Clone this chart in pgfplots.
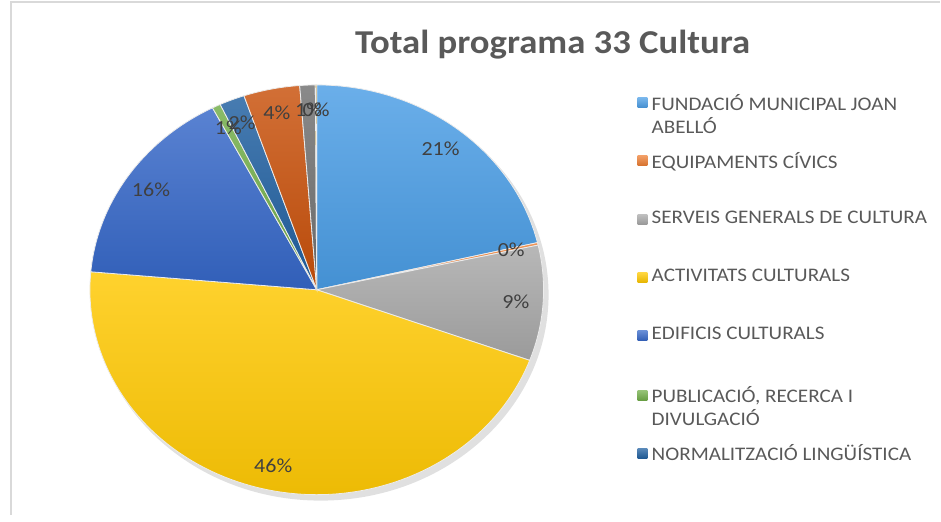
\documentclass[border=0pt]{standalone}
\usepackage{pgfplots}
\pgfplotsset{compat=1.18}
\usepackage{pgfplotstable}
\usepackage{fontspec}
\setmainfont{Carlito}[FakeStretch=1.1]

\definecolor{c1}{HTML}{4A9DE5}
\definecolor{c2}{HTML}{ED7D31}
\definecolor{c3}{HTML}{A8A8A8}
\definecolor{c4}{HTML}{FFC800}
\definecolor{c5}{HTML}{3567C8}
\definecolor{c6}{HTML}{70AD47}
\definecolor{c7}{HTML}{1F5FA0}
\definecolor{c8}{HTML}{C8500A}
\definecolor{c9}{HTML}{707070}
\definecolor{c10}{HTML}{997300}
\definecolor{titlegray}{HTML}{595959}
\definecolor{labelgray}{HTML}{404040}
\definecolor{framegray}{HTML}{D9D9D9}

% share of each item (%), clockwise from 12 o'clock
\pgfplotstableread{
share color
21.3 c1
0.2  c2
9.1  c3
45.8 c4
16.0 c5
0.6  c6
1.8  c7
4.0  c8
1.1  c9
0.1  c10
}\piedata

\newcommand\lblfont{\fontsize{20}{24}\selectfont}
\newcommand\legfont{\fontsize{19.2}{23}\selectfont}

\begin{document}
\begin{tikzpicture}
\begin{axis}[
    width=941pt, height=515pt,
    scale only axis,
    xmin=0, xmax=941, ymin=0, ymax=515,
    hide axis,
    clip=false,
]
\path (axis cs:0,0) rectangle (axis cs:941,515);
\draw[framegray, line width=1.5pt] (axis cs:11,0) -- (axis cs:11,513) -- (axis cs:941,513);

% soft shadow
\fill[black, opacity=0.12] (axis cs:321,220) ellipse [x radius=228, y radius=206];

\def\cum{0}
\pgfplotsforeachungrouped \i in {0,...,9}{
    \pgfplotstablegetelem{\i}{share}\of\piedata \let\v=\pgfplotsretval
    \pgfplotstablegetelem{\i}{color}\of\piedata \let\c=\pgfplotsretval
    \pgfmathsetmacro\a{90-3.6*\cum}
    \pgfmathsetmacro\b{90-3.6*(\cum+\v)}
    \edef\temp{%
        \noexpand\shade[top color=\c!82!white, bottom color=\c!92!black, draw=white!85!gray, line width=0.8pt]
            (axis cs:317,225) -- (axis cs:{317+227*cos(\a)},{225+205*sin(\a)})
            arc[start angle=\a, end angle=\b, x radius=227, y radius=205] -- cycle;
    }
    \temp
    \pgfmathsetmacro\cum{\cum+\v}
}

% data labels
\def\cum{0}
\pgfplotsforeachungrouped \i in {0,...,9}{
    \pgfplotstablegetelem{\i}{share}\of\piedata \let\v=\pgfplotsretval
    \pgfmathsetmacro\m{90-3.6*(\cum+\v/2)}
    \pgfmathtruncatemacro\r{round(\v)}
    \edef\temp{%
        \noexpand\node[text=labelgray, font=\noexpand\lblfont, inner sep=0pt]
            at (axis cs:{317+0.88*227*cos(\m)},{225+0.88*205*sin(\m)}) {\r\noexpand\%};
    }
    \temp
    \pgfmathsetmacro\cum{\cum+\v}
}

% title
\node[text=titlegray, font=\fontsize{33.4}{40}\selectfont\bfseries]
    at (axis cs:553,470) {Total programa 33 Cultura};

% legend
\def\legrow#1#2#3{%
    \shade[top color=#2!75!white, bottom color=#2!90!black] (axis cs:638,{515-#1-5}) rectangle (axis cs:648,{515-#1+5});
    \node[anchor=north west, text=titlegray, font=\legfont, inner sep=0pt, align=left]
        at (axis cs:652,{515-#1+9}) {#3};
}
\legrow{103}{c1}{FUNDACIÓ MUNICIPAL JOAN\\ABELLÓ}
\legrow{161}{c2}{EQUIPAMENTS CÍVICS}
\legrow{220}{c3}{SERVEIS GENERALS DE CULTURA}
\legrow{278}{c4}{ACTIVITATS CULTURALS}
\legrow{336}{c5}{EDIFICIS CULTURALS}
\legrow{396}{c6}{PUBLICACIÓ, RECERCA I\\DIVULGACIÓ}
\legrow{454}{c7}{NORMALITZACIÓ LINGÜÍSTICA}
\end{axis}
\end{tikzpicture}
\end{document}
